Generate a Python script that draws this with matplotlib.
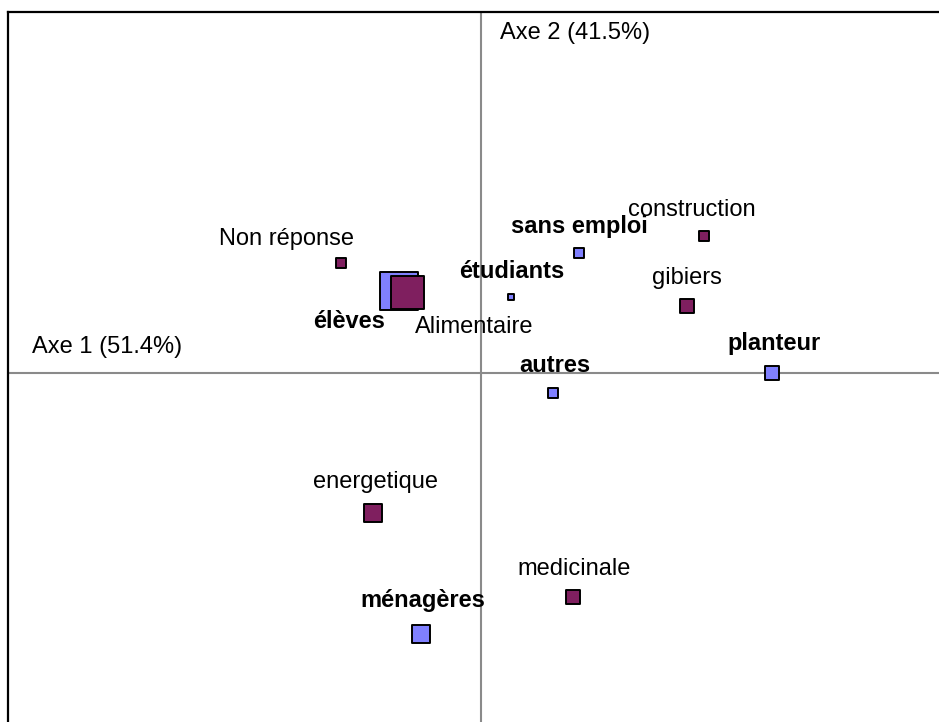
import numpy as np
import matplotlib
matplotlib.use("Agg")
from matplotlib import pyplot as plt

# factor coordinates (axis 1, axis 2)
prof_labels = ["élèves", "étudiants", "sans emploi", "autres", "planteur", "ménagères"]
prof_x = [-0.41, 0.15, 0.49, 0.36, 1.455, -0.30]
prof_y = [0.41, 0.38, 0.60, -0.10, 0.0, -1.305]
prof_mass = [40, 8, 12, 12, 16, 20]  # marker size in px

use_labels = ["Non réponse", "Alimentaire", "construction", "gibiers", "energetique", "medicinale"]
use_x = [-0.70, -0.37, 1.115, 1.03, -0.54, 0.46]
use_y = [0.55, 0.405, 0.685, 0.335, -0.70, -1.12]
use_mass = [12, 35, 12, 16, 20, 16]

axis1 = "Axe 1 (51.4%)"
axis2 = "Axe 2 (41.5%)"

# label placement: (dx px, dy px, ha)
prof_off = [(-14, -37, "right"), (1, 19, "center"), (0, 20, "center"),
            (2, 21, "center"), (2, 23, "center"), (2, 27, "center")]
use_off = [(-55, 18, "center"), (8, -41, "left"), (-12, 20, "center"),
           (0, 22, "center"), (2, 25, "center"), (1, 22, "center")]

plt.rcParams["font.family"] = ["Liberation Sans", "DejaVu Sans"]

W, H = 939, 722
fig = plt.figure(figsize=(W / 100, H / 100), dpi=100)
ax = fig.add_axes([8 / W, -18 / H, 952 / W, 728 / H])
ax.set_xlim(-2.365, 2.395)
ax.set_ylim(-1.835, 1.805)
ax.set_xticks([])
ax.set_yticks([])
for s in ax.spines.values():
    s.set_linewidth(1.6)
    s.set_color("black")

ax.axhline(0, color="#8a8a8a", lw=1.5, zorder=1)
ax.axvline(0, color="#8a8a8a", lw=1.5, zorder=1)


def sz(px):
    return (0.72 * (np.array(px) - 2)) ** 2


ax.scatter(prof_x, prof_y, s=sz(prof_mass), marker="s", c="#8080ff",
           edgecolors="black", linewidths=1.4, zorder=3)
ax.scatter(use_x, use_y, s=sz(use_mass), marker="s", c="#7f1f5f",
           edgecolors="black", linewidths=1.4, zorder=4)

for lab, x, y, (dx, dy, ha) in zip(prof_labels, prof_x, prof_y, prof_off):
    ax.annotate(lab, (x, y), xytext=(dx, dy), textcoords="offset pixels",
                ha=ha, va="baseline", fontsize=17, fontweight="bold", zorder=5)
for lab, x, y, (dx, dy, ha) in zip(use_labels, use_x, use_y, use_off):
    ax.annotate(lab, (x, y), xytext=(dx, dy), textcoords="offset pixels",
                ha=ha, va="baseline", fontsize=17, zorder=5)

ax.annotate(axis1, (0, 0), xycoords=("axes fraction", "data"), xytext=(24, 20),
            textcoords="offset pixels", ha="left", va="baseline", fontsize=17)
ax.annotate(axis2, (0, 1), xycoords=("data", "axes fraction"), xytext=(19, -27),
            textcoords="offset pixels", ha="left", va="baseline", fontsize=17)

fig.savefig("out.png", dpi=100)
